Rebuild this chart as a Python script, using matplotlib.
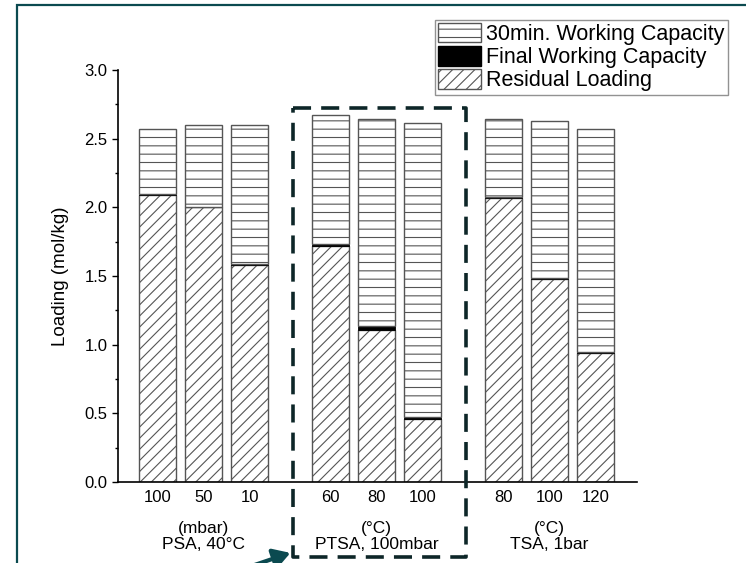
import matplotlib
matplotlib.use("Agg")
import matplotlib.pyplot as plt
from matplotlib.patches import Patch, Rectangle, FancyArrowPatch
from matplotlib.lines import Line2D

plt.rcParams['font.family'] = ['Liberation Sans', 'DejaVu Sans']
plt.rcParams['hatch.linewidth'] = 0.8

# dane
conditions = ["100", "50", "10", "60", "80", "100", "80", "100", "120"]
groups = ["(mbar)\nPSA, 40°C", "(°C)\nPTSA, 100mbar", "(°C)\nTSA, 1bar"]
residual = [2.09, 2.00, 1.58, 1.72, 1.11, 0.46, 2.07, 1.48, 0.94]
final_wc = [0.01, 0.006, 0.006, 0.015, 0.025, 0.015, 0.006, 0.006, 0.006]
wc_30min = [0.47, 0.59, 1.015, 0.935, 1.505, 2.14, 0.565, 1.145, 1.625]

W, H = 746, 563
fig = plt.figure(figsize=(W / 100, H / 100), dpi=100)
ax = fig.add_axes([118 / W, 1 - 482 / H, (637 - 118) / W, (482 - 70) / H])

# pozycje slupkow: 3 grupy po 3
gap = 0.76
pos = [i + (i // 3) * gap for i in range(len(conditions))]
bw = 0.8
edge = '#555555'

bottom2 = [r + f for r, f in zip(residual, final_wc)]
ax.bar(pos, residual, bw, color='white', edgecolor=edge, hatch='///', linewidth=1.0)
ax.bar(pos, final_wc, bw, bottom=residual, color='black', edgecolor='black', linewidth=0.6)
ax.bar(pos, wc_30min, bw, bottom=bottom2, color='white', edgecolor=edge, hatch='--', linewidth=1.0)

ax.set_ylim(0, 3.0)
ax.set_xlim(-0.86, 10.42)
ax.set_yticks([0, 0.5, 1.0, 1.5, 2.0, 2.5, 3.0])
ax.set_yticklabels(['0.0', '0.5', '1.0', '1.5', '2.0', '2.5', '3.0'])
ax.set_yticks([0.25, 0.75, 1.25, 1.75, 2.25, 2.75], minor=True)
ax.tick_params(axis='y', which='major', direction='out', length=4.5, width=1, labelsize=12, pad=3)
ax.tick_params(axis='y', which='minor', direction='out', length=2.5, width=1)
ax.set_xticks(pos)
ax.set_xticklabels(conditions)
ax.tick_params(axis='x', length=0, labelsize=12, pad=6)
for s in ['top', 'right']:
    ax.spines[s].set_visible(False)
for s in ['left', 'bottom']:
    ax.spines[s].set_linewidth(1.2)

ax.set_ylabel("Loading (mol/kg)", fontsize=13.5)
ax.yaxis.set_label_coords(-0.095, 0.5)

# podpisy grup
for g, label in enumerate(groups):
    xc = pos[g * 3 + 1]
    ax.annotate(label, xy=(xc, 0), xycoords=('data', 'axes fraction'),
                xytext=(0, -28), textcoords='offset points',
                ha='center', va='top', fontsize=12.5, linespacing=1.1)

# legenda
handles = [Patch(facecolor='white', edgecolor=edge, hatch='--'),
           Patch(facecolor='black', edgecolor='black'),
           Patch(facecolor='white', edgecolor=edge, hatch='///')]
labels = ["30min. Working Capacity", "Final Working Capacity", "Residual Loading"]
leg = fig.legend(handles, labels, loc='upper right', bbox_to_anchor=(728 / W, 1 - 20 / H),
                 bbox_transform=fig.transFigure, fontsize=15.5, frameon=True, fancybox=False,
                 borderpad=0.15, labelspacing=0.05, handlelength=2.0, handleheight=1.0,
                 handletextpad=0.25, borderaxespad=0)
leg.get_frame().set_edgecolor('#777777')
leg.get_frame().set_linewidth(1.0)

# ramka przerywana wokol PTSA
box_c = '#0d2628'
x0, x1 = 293 / W, 466 / W
y0, y1 = 1 - 557 / H, 1 - 108 / H
fig.add_artist(Line2D([x0, x1, x1, x0, x0], [y1, y1, y0, y0, y1], transform=fig.transFigure,
                      color=box_c, linewidth=2.6, dashes=(5, 2.8)))

# strzalka
fig.add_artist(FancyArrowPatch(
    (225 / W, 1 - 575 / H), (293 / W, 1 - 552 / H), transform=fig.transFigure,
    arrowstyle='-|>,head_length=10,head_width=6', mutation_scale=1, color='#0b4a50', linewidth=3))

# obramowanie
fig.add_artist(Rectangle((17 / W, -0.05), 1.1, 1 - 5 / H + 0.05, transform=fig.transFigure,
                         fill=False, edgecolor='#0b4a50', linewidth=1.6))

fig.savefig("out.png", dpi=100)
